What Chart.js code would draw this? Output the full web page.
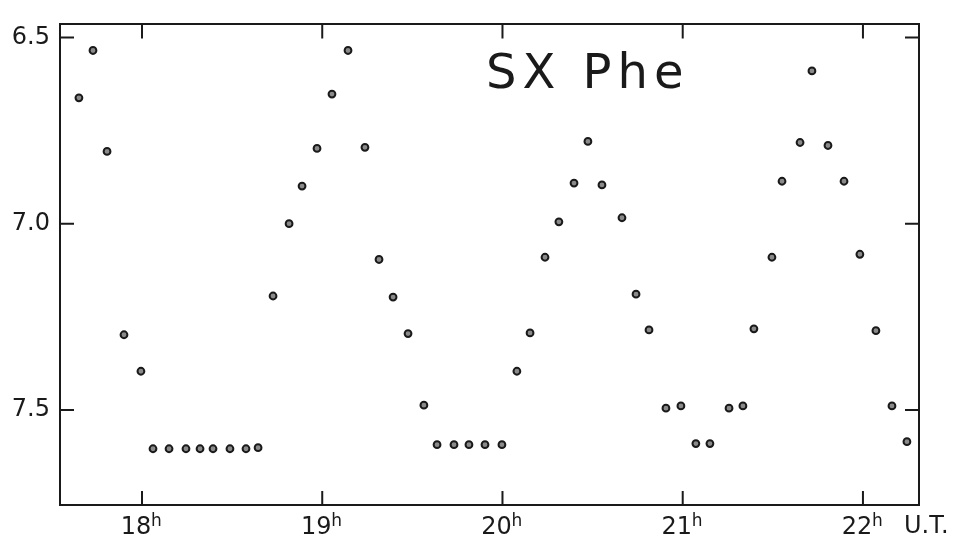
<!DOCTYPE html>
<html>
<head>
<meta charset="utf-8">
<script src="https://cdn.jsdelivr.net/npm/chart.js@4.4.0/dist/chart.umd.min.js"></script>
<style>
  html, body { margin: 0; padding: 0; background: #fff; }
  #wrap { width: 956px; height: 543px; position: relative; }
</style>
</head>
<body>
<div id="wrap"><canvas id="lightCurve"></canvas></div>
<script>
// Observation times (U.T., decimal hours) and visual magnitudes of SX Phe
const times = [
    17.650, 17.728, 17.806, 17.900, 17.994,
    18.061, 18.150, 18.244, 18.322, 18.394, 18.488, 18.577, 18.644,
    18.727, 18.816, 18.888, 18.971, 19.054, 19.143, 19.237, 19.315,
    19.393, 19.476, 19.564,
    19.637, 19.731, 19.814, 19.903, 19.997,
    20.080, 20.153, 20.236, 20.313, 20.397, 20.474, 20.552, 20.663,
    20.741, 20.813, 20.907, 20.990, 21.073, 21.151, 21.257, 21.334,
    21.395, 21.495, 21.551, 21.651, 21.717, 21.806, 21.895, 21.983,
    22.072, 22.161, 22.244
];
const magnitudes = [
    6.662, 6.535, 6.806, 7.298, 7.396,
    7.604, 7.604, 7.604, 7.604, 7.604, 7.604, 7.604, 7.601,
    7.194, 7.000, 6.899, 6.798, 6.652, 6.535, 6.795, 7.096,
    7.197, 7.295, 7.487,
    7.593, 7.593, 7.593, 7.593, 7.593,
    7.396, 7.293, 7.090, 6.995, 6.891, 6.779, 6.896, 6.984,
    7.189, 7.285, 7.495, 7.489, 7.590, 7.590, 7.495, 7.489,
    7.282, 7.090, 6.886, 6.782, 6.590, 6.790, 6.886, 7.082,
    7.287, 7.489, 7.585
];

// Tick values and labels
const hourTicks = [18, 19, 20, 21, 22];
const magTicks = [6.5, 7.0, 7.5];

const ink = '#1a1a1a';
const labelFont = { family: 'DejaVu Sans', size: 24 };

// inward tick marks on all four sides of the frame
const innerTicks = {
    id: 'innerTicks',
    afterDraw(chart) {
        const ctx = chart.ctx;
        const a = chart.chartArea;
        const len = 14;
        ctx.save();
        ctx.strokeStyle = ink;
        ctx.lineWidth = 2;
        ctx.beginPath();
        hourTicks.forEach(v => {
            const px = chart.scales.x.getPixelForValue(v);
            ctx.moveTo(px, a.bottom); ctx.lineTo(px, a.bottom - len);
            const pt = chart.scales.xTop.getPixelForValue(v);
            ctx.moveTo(pt, a.top); ctx.lineTo(pt, a.top + len);
        });
        magTicks.forEach(v => {
            const py = chart.scales.y.getPixelForValue(v);
            ctx.moveTo(a.left, py); ctx.lineTo(a.left + len, py);
            const pr = chart.scales.yRight.getPixelForValue(v);
            ctx.moveTo(a.right, pr); ctx.lineTo(a.right - len, pr);
        });
        ctx.stroke();
        ctx.restore();
    }
};

// star name, the superscript "h" of the hour labels and the time unit
const labels = {
    id: 'labels',
    afterDraw(chart) {
        const ctx = chart.ctx;
        ctx.save();
        ctx.fillStyle = ink;
        ctx.font = '48px "DejaVu Sans"';
        ctx.letterSpacing = '6px';
        ctx.textBaseline = 'alphabetic';
        ctx.textAlign = 'left';
        ctx.fillText('SX Phe', 486, 88);
        ctx.letterSpacing = '0px';

        ctx.font = '17px "DejaVu Sans"';
        hourTicks.forEach(v => {
            const px = chart.scales.x.getPixelForValue(v);
            ctx.fillText('h', px + 9, 526);
        });

        ctx.font = '24px "DejaVu Sans"';
        ctx.textBaseline = 'middle';
        ctx.fillText('U.T.', 904, 527);
        ctx.restore();
    }
};

const xMin = 17.545, xMax = 22.311;
const yMin = 6.465, yMax = 7.755;

new Chart(document.getElementById('lightCurve'), {
    type: 'scatter',
    data: {
        datasets: [{
            label: 'SX Phe',
            data: times.map((t, i) => ({ x: t, y: magnitudes[i] })),
            pointRadius: 3.4,
            pointBorderWidth: 2,
            borderColor: ink,
            backgroundColor: '#8a8a8a'
        }]
    },
    options: {
        responsive: true,
        maintainAspectRatio: false,
        animation: false,
        layout: { padding: { left: 0, top: 20, right: 37, bottom: 0 } },
        plugins: {
            legend: { display: false },
            tooltip: { enabled: false }
        },
        scales: {
            x: {
                type: 'linear',
                position: 'bottom',
                min: xMin,
                max: xMax,
                afterBuildTicks: s => { s.ticks = hourTicks.map(v => ({ value: v })); },
                afterFit: s => { s.height = 38; },
                ticks: {
                    // leave room on the right for the superscript h
                    callback: v => v + '\u2002',
                    color: ink,
                    font: labelFont,
                    padding: 8,
                    maxRotation: 0
                },
                grid: { display: false, drawTicks: false },
                border: { display: true, color: ink, width: 2 }
            },
            xTop: {
                type: 'linear',
                position: 'top',
                min: xMin,
                max: xMax,
                afterBuildTicks: s => { s.ticks = hourTicks.map(v => ({ value: v })); },
                afterFit: s => { s.height = 0; },
                ticks: { display: false },
                grid: { display: false, drawTicks: false },
                border: { display: true, color: ink, width: 2 }
            },
            y: {
                type: 'linear',
                position: 'left',
                reverse: true,
                min: yMin,
                max: yMax,
                afterBuildTicks: s => { s.ticks = magTicks.map(v => ({ value: v })); },
                afterFit: s => { s.width = 60; },
                ticks: {
                    callback: v => v.toFixed(1),
                    color: ink,
                    font: labelFont,
                    padding: 10
                },
                grid: { display: false, drawTicks: false },
                border: { display: true, color: ink, width: 2 }
            },
            yRight: {
                type: 'linear',
                position: 'right',
                reverse: true,
                min: yMin,
                max: yMax,
                afterBuildTicks: s => { s.ticks = magTicks.map(v => ({ value: v })); },
                afterFit: s => { s.width = 0; },
                ticks: { display: false },
                grid: { display: false, drawTicks: false },
                border: { display: true, color: ink, width: 2 }
            }
        }
    },
    plugins: [innerTicks, labels]
});
</script>
</body>
</html>
